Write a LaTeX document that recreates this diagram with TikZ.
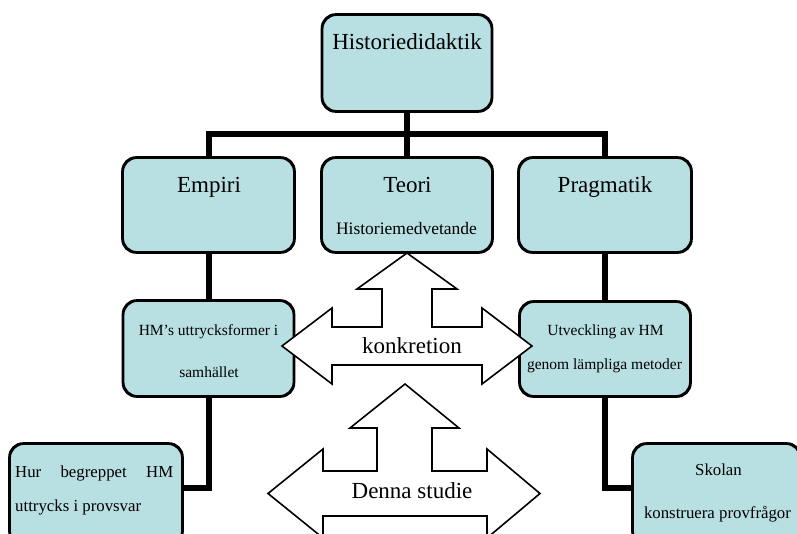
\documentclass[tikz,border=0pt]{standalone}
\usepackage{fontspec}
\setmainfont{Liberation Serif}
\usetikzlibrary{calc}
\definecolor{boxfill}{RGB}{184,223,226}
\tikzset{
  box/.style={draw=black, line width=1.8pt, fill=boxfill, rounded corners=14pt, inner sep=0pt},
  conn/.style={draw=black, line width=6pt},
  bigarrow/.style={draw=black, line width=1.6pt, fill=white, line join=miter},
  big/.style={font=\fontsize{23}{27}\selectfont, anchor=base, inner sep=0pt},
  mid/.style={font=\fontsize{17.5}{21}\selectfont, anchor=base, inner sep=0pt},
  small/.style={font=\fontsize{15.5}{19}\selectfont, anchor=base, inner sep=0pt},
  low/.style={font=\fontsize{16.8}{20}\selectfont, anchor=base, inner sep=0pt},
}
\begin{document}
\begin{tikzpicture}[x=1pt,y=-1pt]
\useasboundingbox (0,0) rectangle (797,533);
\clip (0,0) rectangle (797,533);
% boxes
\node[box, minimum width=169pt, minimum height=96pt] (top) at (407,63) {};
\node[box, minimum width=171pt, minimum height=94pt] (empiri) at (208.5,205) {};
\node[box, minimum width=170pt, minimum height=94pt] (teori) at (407,205) {};
\node[box, minimum width=172pt, minimum height=94pt] (prag) at (605,205) {};
\node[box, minimum width=170pt, minimum height=95pt] (hm) at (208.5,348.5) {};
\node[box, minimum width=170pt, minimum height=94pt] (utv) at (605,349) {};
\node[box, minimum width=172pt, minimum height=101pt] (hur) at (96,494.5) {};
\node[box, minimum width=167pt, minimum height=101pt] (skol) at (716.5,494.5) {};
% connectors
\coordinate (bar) at (407,135);
\draw[conn] (top.south) -- (bar);
\draw[conn] (empiri.north) -- ++(0,-23) -| (prag.north);
\draw[conn] (bar) -- (teori.north);
\draw[conn] (empiri.south) -- (hm.north);
\draw[conn] (prag.south) -- (utv.north);
\draw[conn] (hm.south) |- ($(hur.east)+(0,-6.5)$);
\draw[conn] (utv.south) |- ($(skol.west)+(0,-6.5)$);
% redraw box borders over connector ends
\foreach \n in {top,empiri,teori,prag,hm,utv,hur,skol}{
  \draw[line width=1.8pt, rounded corners=14pt] (\n.south west) rectangle (\n.north east);
}
% texts
\node[big] (t1) at (407,49) {Historiedidaktik};
\node[big] (t2) at (209,192) {Empiri};
\node[big] (t3) at (407.5,192) {Teori};
\node[mid] (t4) at (406.5,234) {Historiemedvetande};
\node[big] (t5) at (605,192) {Pragmatik};
\node[small] (t6) at (208.5,335) {HM’s uttrycksformer i};
\node[small] (t7) at (209,377) {samhället};
\node[small] (t8) at (605.5,335) {Utveckling av HM};
\node[small] (t9) at (604.5,369) {genom lämpliga metoder};
\node[low, anchor=base west] (t10) at (15,477) {\makebox[158pt][s]{Hur begreppet HM}};
\node[low, anchor=base west] (t11) at (15,511) {uttrycks i provsvar};
\node[low] (t12) at (718.5,475) {Skolan};
\node[low] (t13) at (717.5,518) {konstruera provfrågor};
% big arrows
\draw[bigarrow] (407,253) -- (457,289) -- (432,289) -- (432,327) -- (482,327) -- (482,308)
  -- (532,346) -- (482,384) -- (482,365) -- (332,365) -- (332,384) -- (282,346)
  -- (332,308) -- (332,327) -- (382,327) -- (382,289) -- (357,289) -- cycle;
\node[big] (konk) at (412,353) {konkretion};
\draw[bigarrow] (405,384) -- (459,428) -- (432,428) -- (432,471) -- (487,471) -- (487,449)
  -- (540,493.5) -- (487,538) -- (487,516) -- (323,516) -- (323,538) -- (268,493.5)
  -- (323,449) -- (323,471) -- (377,471) -- (377,428) -- (350,428) -- cycle;
\node[big] (denna) at (412,498) {Denna studie};
\end{tikzpicture}
\end{document}
